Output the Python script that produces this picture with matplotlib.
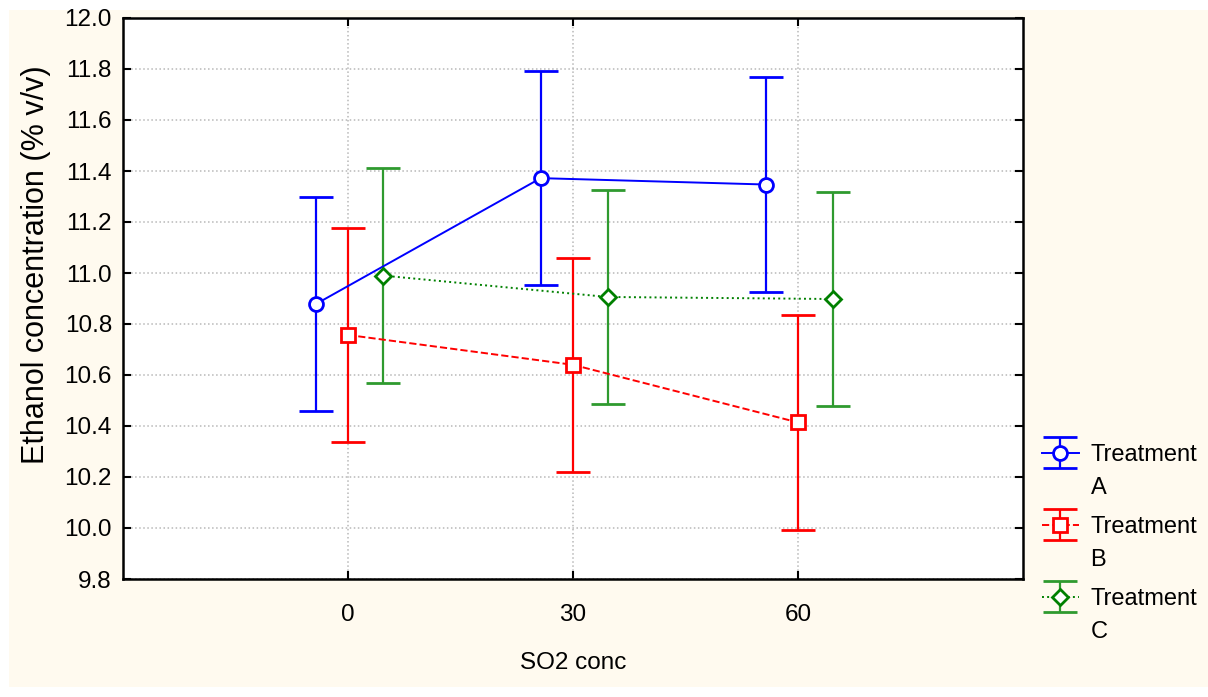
import numpy as np
import matplotlib.pyplot as plt
from matplotlib.patches import Rectangle
from matplotlib.transforms import Affine2D
from matplotlib.legend_handler import HandlerErrorbar

# SO2 concentration levels and ethanol means with error half-widths
so2_conc = [0, 30, 60]
tick_labels = ["0", "30", "60"]
a_mean = [10.878, 11.372, 11.347]
a_err = [0.42, 0.42, 0.42]
b_mean = [10.757, 10.640, 10.414]
b_err = [0.42, 0.42, 0.42]
c_mean = [10.990, 10.906, 10.898]
c_err = [0.42, 0.42, 0.42]
labels = ["Treatment\nA", "Treatment\nB", "Treatment\nC"]

plt.rcParams["font.family"] = ["Liberation Sans", "DejaVu Sans"]

fig = plt.figure(figsize=(12.08, 6.97), dpi=100, facecolor="white")
# cream panel behind everything
fig.patches.append(Rectangle((9 / 1208, 10 / 697), 1 - 9 / 1208, 1 - 20 / 697,
                             transform=fig.transFigure, facecolor="#fffaef",
                             edgecolor="none", zorder=-5))

ax = fig.add_axes([123 / 1208, 1 - 579 / 697, 900 / 1208, 561 / 697])
ax.set_facecolor("white")

series = [
    (a_mean, a_err, -4.3, "#0000ff", "#0000ff", "-", "o", 10),
    (b_mean, b_err, 0.0, "#ff0000", "#ff0000", "--", "s", 10),
    (c_mean, c_err, 4.6, "#008000", "#2f9a2f", ":", "D", 8),
]
handles = []
for (mean, err, shift, col, barcol, ls, mk, ms), lab in zip(series, labels):
    xs = [x + shift for x in so2_conc]
    h = ax.errorbar(xs, mean, yerr=err, color=col, ecolor=barcol, ls=ls, lw=1.4,
                    marker=mk, ms=ms, mfc="white", mec=col, mew=2,
                    capsize=12, capthick=1.8, elinewidth=1.6, label=lab, zorder=3)
    handles.append(h)

ax.set_xlim(-30, 90)
ax.set_ylim(9.8, 12.0)
ax.set_xticks(so2_conc)
ax.set_xticklabels(tick_labels)
ax.set_yticks([9.8 + 0.2 * i for i in range(12)])
ax.set_yticklabels([f"{9.8 + 0.2 * i:.1f}" for i in range(12)])

ax.grid(True, ls=":", color="#b8b8b8", lw=1.1)
ax.set_axisbelow(True)
for s in ax.spines.values():
    s.set_linewidth(1.8)
    s.set_color("black")
ax.tick_params(direction="in", length=6, width=1.5, top=True, right=True,
               labelsize=17.5, pad=8)
ax.tick_params(axis="x", pad=18)

ax.set_xlabel("SO2 conc", fontsize=17.5, labelpad=19)
ax.set_ylabel("Ethanol concentration (% v/v)", fontsize=22)
ax.yaxis.set_label_coords(-0.08, 0.56)

fs = 17
leg = fig.legend(handles=handles, labels=labels, loc="upper left",
                 bbox_to_anchor=(1028 / 1208, 1 - 430 / 697), frameon=False,
                 fontsize=fs, handlelength=1.55, handleheight=1.2,
                 handletextpad=0.5, labelspacing=0.72, borderpad=0.1,
                 handler_map={h: HandlerErrorbar(xerr_size=0.6, yerr_size=0.65)
                              for h in handles})
for t in leg.get_texts():
    t.set_linespacing(1.65)

# move each legend handle level with the first line of its label
fig.canvas.draw()
renderer = fig.canvas.get_renderer()
fs_px = fs * fig.dpi / 72
for column in leg._legend_handle_box.get_children():
    for item in column.get_children():
        da, ta = item.get_children()[:2]
        txt = ta._text
        _, info, _ = txt._get_layout(renderer)
        posy = txt.get_transform().transform(txt.get_unitless_position())[1]
        target = posy + info[0][3] + 0.36 * fs_px
        mline = da.get_children()[0]
        for a in da.get_children():
            if hasattr(a, "get_marker") and a.get_marker() not in (None, "None", "", "_"):
                mline = a
                break
        pts = np.column_stack(mline.get_data())
        cur = mline.get_transform().transform(pts)[0, 1]
        dy = (target - cur) * 72 / fig.dpi
        for art in da.get_children():
            art.set_transform(Affine2D().translate(0, dy) + art.get_transform())

fig.savefig("out.png", dpi=100, facecolor=fig.get_facecolor())
